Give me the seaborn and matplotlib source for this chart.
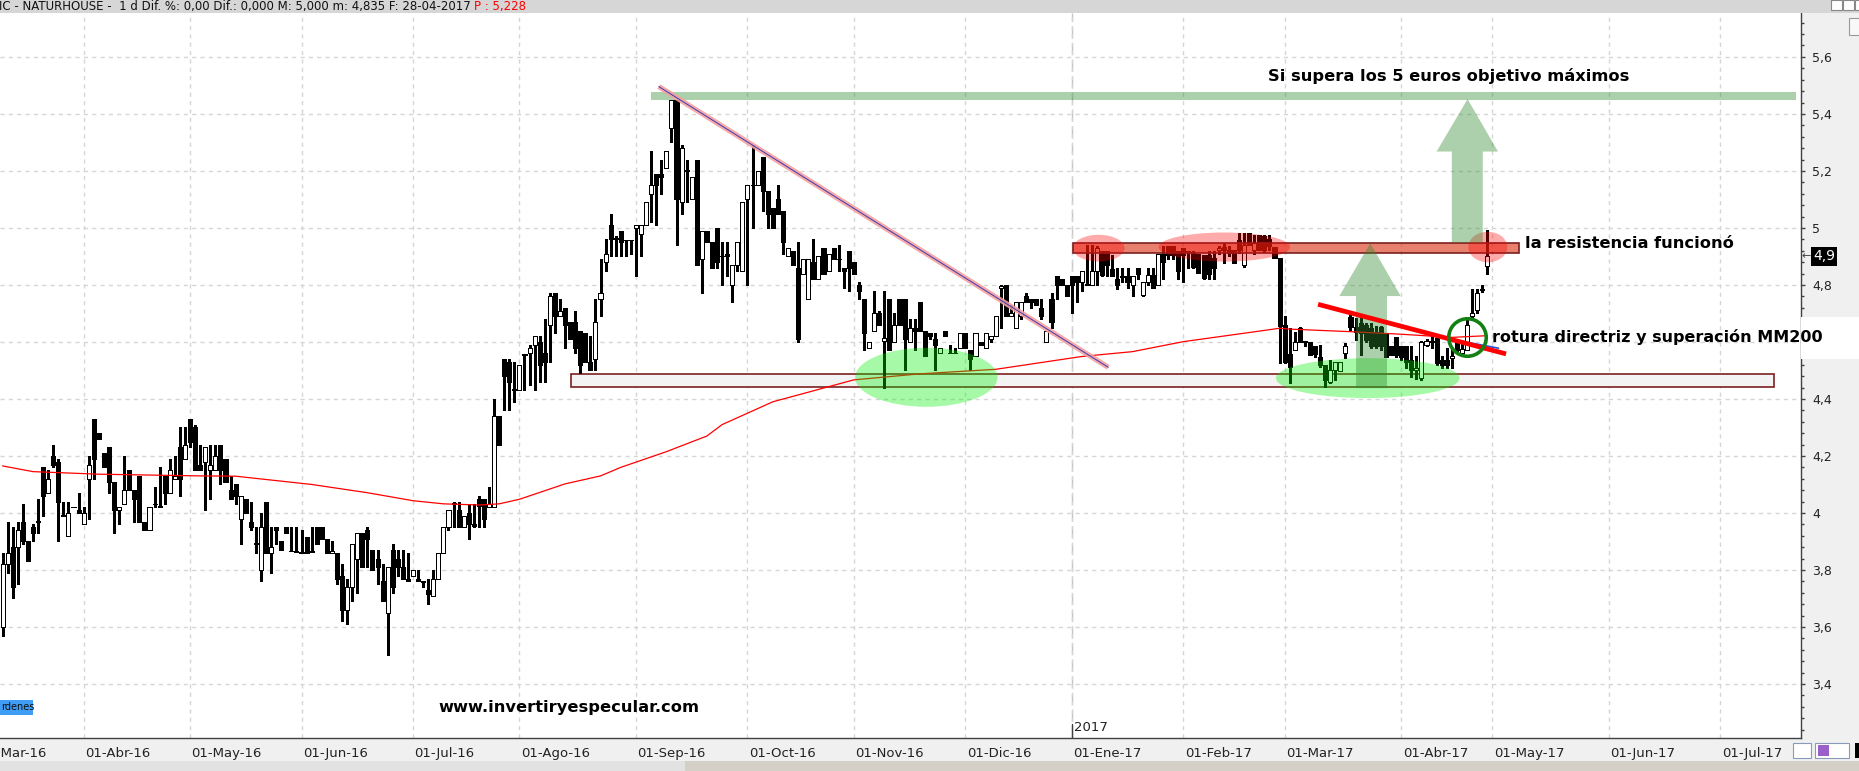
import numpy as np
import pandas as pd
import matplotlib
matplotlib.use("Agg")
import matplotlib.pyplot as plt
import matplotlib.transforms as mtransforms
import seaborn as sns
from matplotlib.patches import Rectangle, Ellipse, Polygon
from matplotlib.ticker import MultipleLocator, FuncFormatter

sns.set_style("white")
plt.rcParams["font.family"] = ["DejaVu Sans"]

W, H = 1859, 771

# NATURHOUSE daily candles, 08-03-2016 .. 28-04-2017
opens = [
    3.60, 3.82, 3.88, 3.88, 3.97, 3.90, 3.95, 3.97, 4.16, 4.07,
    4.20, 4.18, 3.99, 3.92, 4.02, 4.01, 3.96, 4.12, 4.33, 4.28,
    4.21, 4.23, 4.11, 4.01, 4.03, 4.15, 4.08, 4.13, 3.97, 3.94,
    4.03, 4.025, 4.13, 4.07, 4.12, 4.23, 4.19, 4.33, 4.30, 4.17,
    4.18, 4.15, 4.15, 4.24, 4.19, 4.08, 4.10, 3.98, 4.05, 3.97,
    3.89, 3.80, 4.04, 3.86, 3.95, 3.90, 3.95, 3.865, 3.863, 3.864,
    3.915, 3.863, 3.95, 3.95, 3.91, 3.858, 3.86, 3.78, 3.66, 3.74,
    3.84, 3.93, 3.94, 3.87, 3.84, 3.76, 3.65, 3.87, 3.84, 3.81,
    3.77, 3.78, 3.77, 3.76, 3.73, 3.71, 3.77, 3.86, 3.95, 4.03,
    4.01, 3.95, 4.00, 3.96, 4.05, 4.05, 4.02, 4.02, 4.34, 4.54,
    4.53, 4.43, 4.43, 4.555, 4.56, 4.59, 4.60, 4.56, 4.66, 4.77,
    4.69, 4.72, 4.67, 4.67, 4.64, 4.63, 4.53, 4.54, 4.75, 4.88,
    5.01, 4.96, 4.99, 4.958, 4.958, 5.00, 4.98, 5.01, 5.12, 5.19,
    5.19, 5.21, 5.35, 5.45, 5.09, 5.20, 5.10, 5.24, 4.89, 4.99,
    4.95, 5.00, 4.90, 4.91, 4.80, 4.87, 4.85, 5.10, 5.15, 5.15,
    5.25, 5.13, 5.07, 5.10, 5.06, 4.90, 4.92, 4.86, 4.84, 4.75,
    4.88, 4.82, 4.93, 4.85, 4.93, 4.89, 4.86, 4.92, 4.88, 4.80,
    4.75, 4.58, 4.64, 4.70, 4.604, 4.75, 4.60, 4.75, 4.75, 4.60,
    4.65, 4.74, 4.64, 4.63, 4.61, 4.56, 4.64, 4.56, 4.56, 4.58,
    4.63, 4.57, 4.55, 4.60, 4.58, 4.61, 4.62, 4.79, 4.80, 4.69,
    4.65, 4.69, 4.76, 4.75, 4.75, 4.72, 4.60, 4.75, 4.83, 4.82,
    4.80, 4.83, 4.83, 4.81, 4.80, 4.80, 4.85, 4.92, 4.92, 4.855,
    4.82, 4.829, 4.83, 4.80, 4.86, 4.765, 4.81, 4.835, 4.80, 4.91,
    4.935, 4.935, 4.92, 4.93, 4.917, 4.917, 4.91, 4.905, 4.905, 4.893,
    4.923, 4.934, 4.923, 4.923, 4.958, 4.87, 4.981, 4.923, 4.975, 4.97,
    4.96, 4.934, 4.893, 4.66, 4.558, 4.572, 4.648, 4.601, 4.601, 4.586,
    4.548, 4.519, 4.461, 4.502, 4.499, 4.56, 4.689, 4.654, 4.665, 4.66,
    4.648, 4.636, 4.654, 4.63, 4.584, 4.619, 4.584, 4.584, 4.537, 4.50,
    4.472, 4.59, 4.60, 4.613, 4.537, 4.537, 4.543, 4.595, 4.56, 4.572,
    4.69, 4.712, 4.783, 4.867,
]
highs = [
    3.86, 3.97, 3.95, 3.97, 4.03, 3.90, 3.96, 4.05, 4.16, 4.15,
    4.24, 4.19, 4.04, 4.04, 4.02, 4.07, 4.02, 4.20, 4.33, 4.28,
    4.21, 4.23, 4.11, 4.02, 4.20, 4.15, 4.08, 4.13, 3.97, 4.02,
    4.09, 4.16, 4.13, 4.19, 4.20, 4.30, 4.30, 4.33, 4.31, 4.24,
    4.23, 4.24, 4.24, 4.24, 4.19, 4.13, 4.10, 4.06, 4.05, 4.04,
    3.95, 4.00, 4.04, 3.95, 3.95, 3.90, 3.95, 3.95, 3.95, 3.94,
    3.915, 3.95, 3.95, 3.95, 3.91, 3.90, 3.86, 3.82, 3.77, 3.89,
    3.93, 3.93, 3.95, 3.87, 3.87, 3.82, 3.81, 3.89, 3.87, 3.87,
    3.86, 3.80, 3.80, 3.76, 3.77, 3.80, 3.86, 3.95, 4.01, 4.04,
    4.04, 3.99, 4.03, 4.03, 4.06, 4.05, 4.09, 4.40, 4.34, 4.54,
    4.54, 4.53, 4.52, 4.556, 4.59, 4.62, 4.62, 4.68, 4.77, 4.77,
    4.75, 4.72, 4.67, 4.71, 4.64, 4.63, 4.62, 4.75, 4.89, 4.96,
    5.05, 4.97, 4.99, 4.958, 4.958, 5.01, 5.01, 5.09, 5.27, 5.19,
    5.24, 5.27, 5.45, 5.45, 5.29, 5.24, 5.18, 5.24, 4.99, 4.99,
    4.95, 5.00, 4.95, 4.95, 4.87, 4.95, 5.09, 5.15, 5.29, 5.20,
    5.25, 5.13, 5.07, 5.15, 5.06, 4.93, 4.92, 4.95, 4.89, 4.89,
    4.96, 4.90, 4.93, 4.91, 4.93, 4.94, 4.86, 4.92, 4.88, 4.81,
    4.75, 4.60, 4.78, 4.71, 4.78, 4.75, 4.70, 4.75, 4.75, 4.68,
    4.68, 4.74, 4.64, 4.63, 4.63, 4.58, 4.64, 4.59, 4.58, 4.63,
    4.63, 4.57, 4.63, 4.60, 4.63, 4.62, 4.69, 4.80, 4.80, 4.73,
    4.74, 4.74, 4.77, 4.75, 4.75, 4.75, 4.64, 4.77, 4.83, 4.82,
    4.80, 4.83, 4.83, 4.85, 4.94, 4.94, 4.935, 4.92, 4.92, 4.905,
    4.86, 4.86, 4.86, 4.83, 4.86, 4.81, 4.86, 4.86, 4.91, 4.935,
    4.935, 4.935, 4.92, 4.93, 4.917, 4.92, 4.91, 4.905, 4.92, 4.92,
    4.935, 4.946, 4.935, 4.923, 4.981, 4.981, 4.981, 4.975, 4.975, 4.975,
    4.975, 4.934, 4.893, 4.69, 4.648, 4.636, 4.654, 4.601, 4.601, 4.586,
    4.59, 4.519, 4.537, 4.531, 4.531, 4.598, 4.70, 4.683, 4.683, 4.668,
    4.665, 4.656, 4.656, 4.63, 4.584, 4.619, 4.584, 4.584, 4.584, 4.55,
    4.605, 4.61, 4.62, 4.62, 4.55, 4.58, 4.57, 4.60, 4.60, 4.689,
    4.785, 4.785, 4.80, 4.993,
]
lows = [
    3.57, 3.79, 3.70, 3.75, 3.89, 3.83, 3.90, 3.93, 3.99, 4.07,
    4.16, 3.90, 3.99, 3.92, 4.02, 4.00, 3.96, 3.98, 4.12, 4.26,
    4.16, 4.07, 3.93, 3.96, 4.03, 4.08, 3.97, 3.97, 3.94, 3.94,
    4.02, 4.02, 4.03, 4.07, 4.12, 4.06, 4.19, 4.23, 4.15, 4.15,
    4.01, 4.05, 4.15, 4.10, 4.11, 4.05, 4.03, 3.89, 4.00, 3.94,
    3.86, 3.76, 3.86, 3.79, 3.89, 3.87, 3.93, 3.865, 3.863, 3.858,
    3.86, 3.862, 3.89, 3.91, 3.86, 3.858, 3.75, 3.62, 3.61, 3.69,
    3.72, 3.81, 3.81, 3.80, 3.75, 3.69, 3.50, 3.72, 3.78, 3.77,
    3.76, 3.78, 3.76, 3.74, 3.68, 3.71, 3.77, 3.86, 3.94, 3.95,
    3.95, 3.95, 3.91, 3.95, 3.95, 3.95, 4.02, 4.02, 4.24, 4.36,
    4.36, 4.39, 4.43, 4.43, 4.45, 4.43, 4.46, 4.46, 4.53, 4.63,
    4.69, 4.58, 4.61, 4.56, 4.49, 4.53, 4.50, 4.50, 4.69, 4.85,
    4.90, 4.90, 4.90, 4.90, 4.91, 4.83, 4.90, 5.01, 5.02, 5.01,
    5.12, 5.21, 5.30, 4.94, 5.05, 5.09, 5.10, 4.87, 4.77, 4.95,
    4.86, 4.86, 4.80, 4.83, 4.74, 4.85, 4.85, 4.80, 5.00, 5.15,
    5.06, 5.00, 5.00, 5.05, 4.91, 4.90, 4.87, 4.60, 4.84, 4.75,
    4.82, 4.82, 4.84, 4.85, 4.89, 4.85, 4.79, 4.78, 4.84, 4.75,
    4.57, 4.58, 4.64, 4.66, 4.44, 4.57, 4.60, 4.66, 4.50, 4.60,
    4.57, 4.64, 4.55, 4.61, 4.50, 4.56, 4.62, 4.56, 4.56, 4.58,
    4.58, 4.50, 4.55, 4.59, 4.58, 4.60, 4.62, 4.65, 4.69, 4.69,
    4.65, 4.68, 4.74, 4.72, 4.73, 4.68, 4.60, 4.65, 4.75, 4.80,
    4.76, 4.70, 4.74, 4.78, 4.80, 4.80, 4.80, 4.83, 4.83, 4.83,
    4.785, 4.81, 4.79, 4.76, 4.82, 4.76, 4.80, 4.79, 4.80, 4.82,
    4.89, 4.89, 4.82, 4.81, 4.86, 4.86, 4.843, 4.82, 4.82, 4.82,
    4.91, 4.876, 4.90, 4.876, 4.913, 4.864, 4.94, 4.91, 4.923, 4.917,
    4.923, 4.893, 4.525, 4.525, 4.455, 4.572, 4.601, 4.584, 4.554, 4.548,
    4.513, 4.443, 4.455, 4.466, 4.499, 4.543, 4.642, 4.607, 4.554, 4.601,
    4.578, 4.578, 4.572, 4.548, 4.554, 4.548, 4.537, 4.507, 4.478, 4.47,
    4.465, 4.585, 4.58, 4.52, 4.51, 4.51, 4.51, 4.56, 4.55, 4.572,
    4.68, 4.70, 4.775, 4.839,
]
closes = [
    3.82, 3.86, 3.74, 3.94, 3.90, 3.83, 3.93, 3.972, 4.06, 4.12,
    4.17, 4.04, 3.992, 4.00, 4.021, 4.00, 4.00, 4.17, 4.19, 4.26,
    4.16, 4.11, 4.01, 4.02, 4.08, 4.08, 4.05, 3.97, 3.94, 4.02,
    4.032, 4.02, 4.07, 4.15, 4.13, 4.12, 4.24, 4.25, 4.15, 4.15,
    4.23, 4.17, 4.20, 4.15, 4.11, 4.05, 4.06, 4.06, 4.00, 3.95,
    3.894, 3.95, 3.86, 3.88, 3.94, 3.87, 3.93, 3.866, 3.864, 3.858,
    3.86, 3.864, 3.89, 3.91, 3.86, 3.866, 3.77, 3.66, 3.74, 3.89,
    3.93, 3.81, 3.91, 3.80, 3.81, 3.69, 3.81, 3.74, 3.81, 3.77,
    3.76, 3.80, 3.76, 3.758, 3.715, 3.77, 3.86, 3.95, 4.01, 4.035,
    3.95, 3.99, 3.96, 3.955, 4.025, 3.98, 4.03, 4.34, 4.24, 4.48,
    4.46, 4.435, 4.52, 4.556, 4.58, 4.62, 4.52, 4.53, 4.76, 4.69,
    4.71, 4.66, 4.61, 4.58, 4.52, 4.53, 4.50, 4.67, 4.77, 4.91,
    4.96, 4.965, 4.95, 4.957, 4.957, 5.01, 5.01, 5.09, 5.15, 5.15,
    5.18, 5.27, 5.45, 5.10, 5.28, 5.20, 5.18, 4.87, 4.99, 4.95,
    4.86, 4.88, 4.902, 4.90, 4.87, 4.95, 5.09, 5.15, 5.152, 5.20,
    5.13, 5.05, 5.00, 5.05, 4.95, 4.93, 4.87, 4.61, 4.89, 4.89,
    4.82, 4.90, 4.84, 4.91, 4.89, 4.892, 4.85, 4.86, 4.84, 4.78,
    4.63, 4.60, 4.70, 4.66, 4.613, 4.57, 4.66, 4.66, 4.61, 4.65,
    4.64, 4.64, 4.55, 4.62, 4.59, 4.58, 4.62, 4.561, 4.561, 4.63,
    4.58, 4.54, 4.63, 4.59, 4.63, 4.62, 4.69, 4.795, 4.69, 4.70,
    4.74, 4.74, 4.74, 4.74, 4.73, 4.69, 4.64, 4.67, 4.80, 4.80,
    4.76, 4.80, 4.81, 4.85, 4.801, 4.85, 4.93, 4.835, 4.87, 4.83,
    4.80, 4.83, 4.81, 4.83, 4.84, 4.81, 4.835, 4.79, 4.91, 4.88,
    4.905, 4.905, 4.85, 4.905, 4.918, 4.864, 4.843, 4.823, 4.84, 4.858,
    4.929, 4.923, 4.911, 4.876, 4.923, 4.94, 4.94, 4.946, 4.923, 4.923,
    4.935, 4.893, 4.656, 4.531, 4.513, 4.601, 4.601, 4.60, 4.554, 4.558,
    4.519, 4.467, 4.502, 4.531, 4.531, 4.586, 4.654, 4.636, 4.63, 4.607,
    4.584, 4.584, 4.584, 4.548, 4.554, 4.554, 4.548, 4.531, 4.502, 4.51,
    4.60, 4.605, 4.602, 4.525, 4.519, 4.519, 4.551, 4.572, 4.575, 4.66,
    4.70, 4.771, 4.787, 4.90,
]

# MM200 read at some candle positions
ma_idx = [0, 6, 19, 39, 46, 61, 72, 81, 87, 94, 98, 102, 111, 118, 122, 131,
          139, 142, 152, 168, 181, 196, 213, 223, 233, 246, 252, 254, 266, 276,
          286, 293]
ma_val = [4.165, 4.145, 4.136, 4.13, 4.129, 4.10, 4.071, 4.043, 4.032, 4.028,
          4.032, 4.048, 4.102, 4.13, 4.16, 4.215, 4.27, 4.31, 4.39, 4.467,
          4.488, 4.504, 4.549, 4.566, 4.601, 4.633, 4.648, 4.645, 4.636, 4.627,
          4.616, 4.622]

mes = ["Ene", "Feb", "Mar", "Abr", "May", "Jun", "Jul", "Ago", "Sep", "Oct", "Nov", "Dic"]

# trading calendar (market holidays removed), future part as plain weekdays
holidays = pd.to_datetime(["2016-03-25", "2016-03-28", "2016-12-26", "2017-04-14", "2017-04-17"])
past = pd.bdate_range("2016-03-01", "2017-04-28")
past = past[~past.isin(holidays)]
cal = past.append(pd.bdate_range("2017-05-01", "2017-07-31"))
pos = np.arange(len(cal)) - cal.get_loc(pd.Timestamp("2016-03-08"))
cal_df = pd.DataFrame({"d": cal, "pos": pos})
first = cal_df.groupby([cal_df.d.dt.year, cal_df.d.dt.month]).first()
month_pos = first["pos"].values
month_lab = [f"01-{mes[d.month - 1]}-{d.strftime('%y')}" for d in first["d"]]
jan17 = int(cal_df.loc[cal_df.d == pd.Timestamp("2017-01-02"), "pos"].iloc[0])

fig = plt.figure(figsize=(W / 100, H / 100), dpi=100, facecolor="#f0f0f0")
ax = fig.add_axes([0, 33 / H, 1801 / W, 725 / H])
ax.set_facecolor("white")
ax.set_xlim(-0.5, 354.9)
ax.set_ylim(3.2105, 5.754)

o = np.array(opens); h = np.array(highs); l = np.array(lows); c = np.array(closes)
idx = np.arange(len(c))
up = c >= o

# candles, drawn crisp like the trading software does
ax.vlines(idx, l, h, color="black", lw=0.75, zorder=2, antialiased=False)
ax.bar(idx[up], np.maximum(c - o, 0.002)[up], bottom=o[up], width=0.8,
       color="white", edgecolor="black", lw=0.72, zorder=3, antialiased=False)
ax.bar(idx[~up], np.maximum(o - c, 0.002)[~up], bottom=c[~up], width=0.8,
       color="black", edgecolor="black", lw=0.72, zorder=3, antialiased=False)

# MM200
sns.lineplot(x=ma_idx, y=ma_val, color="red", lw=0.9, ax=ax, zorder=4)

# support zone
ax.add_patch(Rectangle((112.1, 4.441), 237.4, 0.046, fc="#f3f3f3", ec="#7b2020", lw=1.2, zorder=1.5))
# target band
ax.add_patch(Rectangle((128, 5.449), 226, 0.029, fc="#2e8b2e", alpha=0.4, ec="none", zorder=6))
# resistance bar
ax.add_patch(Rectangle((211.3, 4.911), 88, 0.035, fc="#d92b0d", alpha=0.6, ec="none", zorder=5))
ax.add_patch(Rectangle((211.3, 4.911), 88, 0.035, fill=False, ec="#7b2020", lw=1.2, zorder=5.1))

# ellipses
for cx, cy, ew, eh in [(216.3, 4.929, 10.2, 0.094), (241.1, 4.933, 26.0, 0.102), (293.1, 4.933, 7.7, 0.107)]:
    ax.add_patch(Ellipse((cx, cy), ew, eh, fc="red", alpha=0.33, ec="none", zorder=6))
for cx, cy, ew, eh in [(182.3, 4.476, 28.1, 0.207), (269.4, 4.473, 36.2, 0.140)]:
    ax.add_patch(Ellipse((cx, cy), ew, eh, fc="#00ee00", alpha=0.35, ec="none", zorder=5))

# green arrows
for tip_x, tip_y, base_y, hl, hr, sl, sr, bot in [
        (269.9, 4.946, 4.761, 263.8, 275.9, 267.1, 273.2, 4.438),
        (289.1, 5.452, 5.268, 283.0, 295.1, 286.0, 292.1, 4.949)]:
    pts = [(sl, bot), (sl, base_y), (hl, base_y), (tip_x, tip_y), (hr, base_y), (sr, base_y), (sr, bot)]
    ax.add_patch(Polygon(pts, closed=True, fc="#2e8b2e", alpha=0.4, ec="none", zorder=6))

# bajista trend line (pink with thin blue core)
ax.plot([129.5, 218.2], [5.496, 4.511], color="#f4a0a0", lw=3.8, alpha=0.9, zorder=7, solid_capstyle="butt")
ax.plot([129.5, 218.2], [5.496, 4.511], color="#3b3bb0", lw=0.7, zorder=7.5)
# directriz
ax.plot([286.0, 295.2], [4.609, 4.578], color="#2050e0", lw=1.2, zorder=7.6)
ax.plot([259.6, 296.7], [4.732, 4.558], color="red", lw=3.4, zorder=8, solid_capstyle="butt")
ax.plot([288.96], [4.619], marker="o", ms=27, mfc="none", mec="#138013", mew=2.6, zorder=9)

# annotation texts
tkw = dict(fontweight="bold", color="black", fontsize=11.7, va="center", ha="left", zorder=10)
ax.text(249.8, 5.532, "Si supera los 5 euros objetivo máximos", **tkw)
ax.text(300.4, 4.946, "la resistencia funcionó", **tkw)
ax.text(86.1, 3.316, "www.invertiryespecular.com", **tkw)

# grid / axes
ax.set_xticks(month_pos[(month_pos > -0.5) & (month_pos < 354.9)])
ax.set_xticklabels([])
ax.yaxis.tick_right()
ax.set_yticks(np.arange(3.4, 5.61, 0.2))
ax.yaxis.set_minor_locator(MultipleLocator(0.04))
# 4,6 sits under the label box that covers the price scale
ax.yaxis.set_major_formatter(FuncFormatter(
    lambda v, p: "" if abs(v - 4.6) < 1e-6 else f"{v:g}".replace(".", ",")))
ax.tick_params(axis="y", which="major", direction="out", length=3, width=1, color="#404040",
               labelsize=9, labelcolor="#222222", pad=5)
ax.tick_params(axis="y", which="minor", direction="out", length=2, width=1, color="#404040")
ax.tick_params(axis="x", direction="out", length=6, width=1, color="#404040")
ax.grid(True, which="major", color="#d6d6d6", lw=1, ls=(0, (3, 3)))
ax.axvline(jan17, color="#c4c4c4", lw=1, ls=(0, (8, 4)), zorder=0.5)
for s in ["top", "left"]:
    ax.spines[s].set_visible(False)
for s in ["right", "bottom"]:
    ax.spines[s].set_color("#404040")
    ax.spines[s].set_linewidth(1)

trans = mtransforms.blended_transform_factory(ax.transData, ax.transAxes)
for p, lab in zip(month_pos, month_lab):
    if p < 355:
        ax.text(p + 0.3, -0.021, lab, transform=trans, ha="left", va="center",
                fontsize=9.5, color="#222222", clip_on=False)
ax.text(jan17 + 0.4, 3.247, "2017", ha="left", va="center", fontsize=9.5, color="#222222")
ax.plot([jan17, jan17], [3.2105, 3.26], color="#404040", lw=1, zorder=3)

# chart window chrome
fig.add_artist(Rectangle((0, 1 - 13 / H), 1, 13 / H, transform=fig.transFigure, fc="#d6d6d6", ec="none"))
fig.text(-1 / W, 1 - 6.5 / H, "IC - NATURHOUSE -  1 d Dif. %: 0,00 Dif.: 0,000 M: 5,000 m: 4,835 F: 28-04-2017",
         fontsize=8.5, va="center", ha="left", color="#111111")
fig.text(474 / W, 1 - 6.5 / H, "P : 5,228", fontsize=8.5, va="center", ha="left", color="red")
for bx in [1831, 1843, 1855]:
    fig.add_artist(Rectangle((bx / W, 1 - 10 / H), 11 / W, 10 / H, transform=fig.transFigure,
                             fc="white", ec="#888888", lw=0.8))
fig.add_artist(Rectangle((1849 / W, 1 - 35 / H), 12 / W, 17 / H, transform=fig.transFigure,
                         fc="#f8f8f8", ec="#999999", lw=0.8))

fig.add_artist(Rectangle((0, 0), 685 / W, 10 / H, transform=fig.transFigure, fc="#e2e2e2", ec="none"))
fig.add_artist(Rectangle((685 / W, 0), 1 - 685 / W, 10 / H, transform=fig.transFigure, fc="#d4d0c8", ec="none"))
fig.add_artist(Rectangle((0, 1 - 715 / H), 33 / W, 15 / H, transform=fig.transFigure, fc="#3f9df5", ec="none"))
fig.text(1 / W, 1 - 707.5 / H, "rdenes", fontsize=7, va="center", ha="left", color="#111111")
fig.add_artist(Rectangle((1793 / W, 1 - 758 / H), 18 / W, 15 / H, transform=fig.transFigure,
                         fc="white", ec="#8899bb", lw=0.8))
fig.add_artist(Rectangle((1815 / W, 1 - 758 / H), 34 / W, 15 / H, transform=fig.transFigure,
                         fc="white", ec="#8899bb", lw=0.8))
fig.add_artist(Rectangle((1818 / W, 1 - 756 / H), 11 / W, 11 / H, transform=fig.transFigure,
                         fc="#9a5fc8", ec="none"))
fig.add_artist(Rectangle((1855 / W, 1 - 758 / H), 4 / W, 15 / H, transform=fig.transFigure,
                         fc="black", ec="none"))

# current price marker
fig.text(1813 / W, 1 - 256.5 / H, "4,9", color="white", fontsize=10, va="center", ha="left",
         bbox=dict(fc="black", ec="none", pad=1.5))
fig.text(1802 / W, 1 - 256 / H, "←", color="#444444", fontsize=8, va="center", ha="left")

# label over the price scale with its white background
fig.add_artist(Rectangle((1801 / W, 1 - 359 / H), 58 / W, 42 / H, transform=fig.transFigure,
                         fc="white", ec="none", zorder=1))
fig.text(1491.5 / W, 1 - 337.3 / H, "rotura directriz y superación MM200", fontweight="bold",
         fontsize=11.5, va="center", ha="left", color="black", zorder=3)

fig.savefig("out.png", dpi=100, facecolor=fig.get_facecolor())
